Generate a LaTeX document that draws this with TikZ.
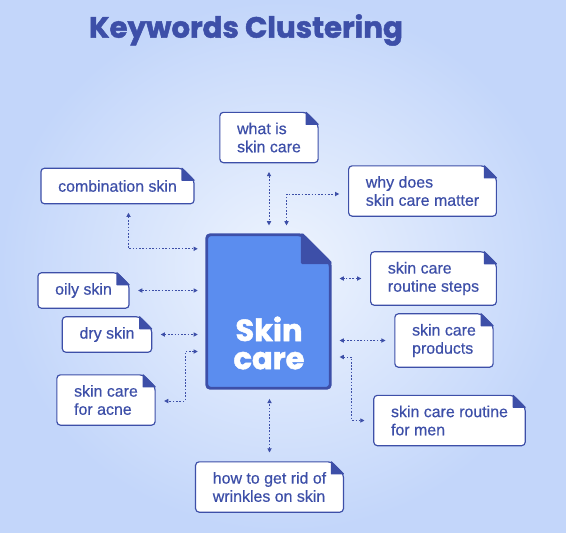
\documentclass[tikz,border=0pt]{standalone}
\usepackage{fontspec}
\usetikzlibrary{arrows.meta,calc}

\newfontfamily\kwfamily{Liberation Sans}[FakeBold=0.5]
\newfontfamily\headfamily{Poppins}[BoldFeatures={FakeBold=1.6}]

\definecolor{kwblue}{HTML}{3D4FA8}
\definecolor{docblue}{HTML}{5B8DEF}
\definecolor{bginner}{HTML}{EEF4FE}
\definecolor{bgouter}{HTML}{C3D6FA}

\pgfdeclarelayer{back}
\pgfsetlayers{back,main}

\tikzset{
  keyword/.style={text=kwblue, font=\kwfamily\fontsize{13.6}{15.5}\selectfont, align=left,
    inner xsep=5.1mm, inner ysep=3mm, minimum height=1.05cm},
  link/.style={kwblue, line width=0.8pt, dash pattern=on 1.4pt off 1.4pt,
    {Triangle[length=3.6pt,width=3.6pt]}-{Triangle[length=3.6pt,width=3.6pt]},
    shorten <=2.8mm, shorten >=2.8mm},
}

% page with a folded corner, drawn behind the node #1
\newcommand{\foldpage}[4]{%
  \begin{pgfonlayer}{back}
    \filldraw[fill=#2, draw=kwblue, line width=#4, rounded corners=3pt]
      (#1.south west) -- (#1.north west) -- ([xshift=-#3]#1.north east)
      -- ([yshift=-#3]#1.north east) -- (#1.south east) -- cycle;
    \filldraw[kwblue, line width=#4, line join=round]
      ([xshift=-#3]#1.north east) -- ([yshift=-#3]#1.north east)
      -- ([xshift=-#3,yshift=-#3]#1.north east) -- cycle;
  \end{pgfonlayer}}

\begin{document}
\begin{tikzpicture}[x=0.03cm, y=-0.03cm]
\useasboundingbox (0,0) rectangle (566,532);
\begin{pgfonlayer}{back}
  \shade[inner color=bginner, outer color=bgouter] (0,0) rectangle (566,532);
\end{pgfonlayer}

\node[text=kwblue, font=\headfamily\bfseries\fontsize{25}{30}\selectfont] (title) at (246,30) {Keywords Clustering};

% centre document
\node[minimum width=3.69cm, minimum height=4.59cm, inner sep=0pt] (doc) at (268.5,311.5) {};
\node[text=white, align=center, font=\headfamily\bfseries\fontsize{26}{24}\selectfont] (doctext) at (269,343) {Skin\\care};
\foldpage{doc}{docblue}{8.4mm}{2.5pt}

% keywords
\node[keyword] (what) at (269,137.5) {what is\\skin care};
\node[keyword] (comb) at (117.5,186) {combination skin};
\node[keyword] (why) at (422.5,191) {why does\\skin care matter};
\node[keyword] (steps) at (433.5,278.5) {skin care\\routine steps};
\node[keyword] (oily) at (83.5,290.5) {oily skin};
\node[keyword] (dry) at (107,334.5) {dry skin};
\node[keyword] (acne) at (106,400) {skin care\\for acne};
\node[keyword] (prod) at (444,340.5) {skin care\\products};
\node[keyword] (men) at (449.5,420.5) {skin care routine\\for men};
\node[keyword] (wrinkle) at (269.5,487) {how to get rid of\\wrinkles on skin};

\foldpage{what}{white}{3.6mm}{1pt}
\foldpage{comb}{white}{3.6mm}{1pt}
\foldpage{why}{white}{3.6mm}{1pt}
\foldpage{steps}{white}{3.6mm}{1pt}
\foldpage{oily}{white}{3.6mm}{1pt}
\foldpage{dry}{white}{3.6mm}{1pt}
\foldpage{acne}{white}{3.6mm}{1pt}
\foldpage{prod}{white}{3.6mm}{1pt}
\foldpage{men}{white}{3.6mm}{1pt}
\foldpage{wrinkle}{white}{3.6mm}{1pt}

% links
\draw[link] (what.south) -- (what.south |- doc.north);
\draw[link] ($(doc.north)+(18,0)$) |- ($(why.west)+(0,3)$);
\draw[link, shorten <=2.7mm, shorten >=2.7mm] ($(comb.south)+(11,0)$) |- ($(doc.north west)+(0,14)$);
\draw[link, shorten <=2.7mm, shorten >=2.7mm] (oily.east) -- (oily.east -| doc.west);
\draw[link, shorten <=2.7mm, shorten >=2.7mm] (dry.east) -- (dry.east -| doc.west);
\draw[link, shorten <=2.7mm, shorten >=2.7mm] ($(doc.west)+(0,40)$) -| ($(acne.east)+(30,1)$) -- ($(acne.east)+(0,1)$);
\draw[link] (steps.west) -- (steps.west -| doc.east);
\draw[link] (prod.west) -- (prod.west -| doc.east);
\draw[link] ($(doc.east)+(0,45.5)$) -| ($(men.west)+(-22,0)$) -- (men.west);
\draw[link, shorten >=3.2mm] (wrinkle.north) -- (wrinkle.north |- doc.south);
\end{tikzpicture}
\end{document}
